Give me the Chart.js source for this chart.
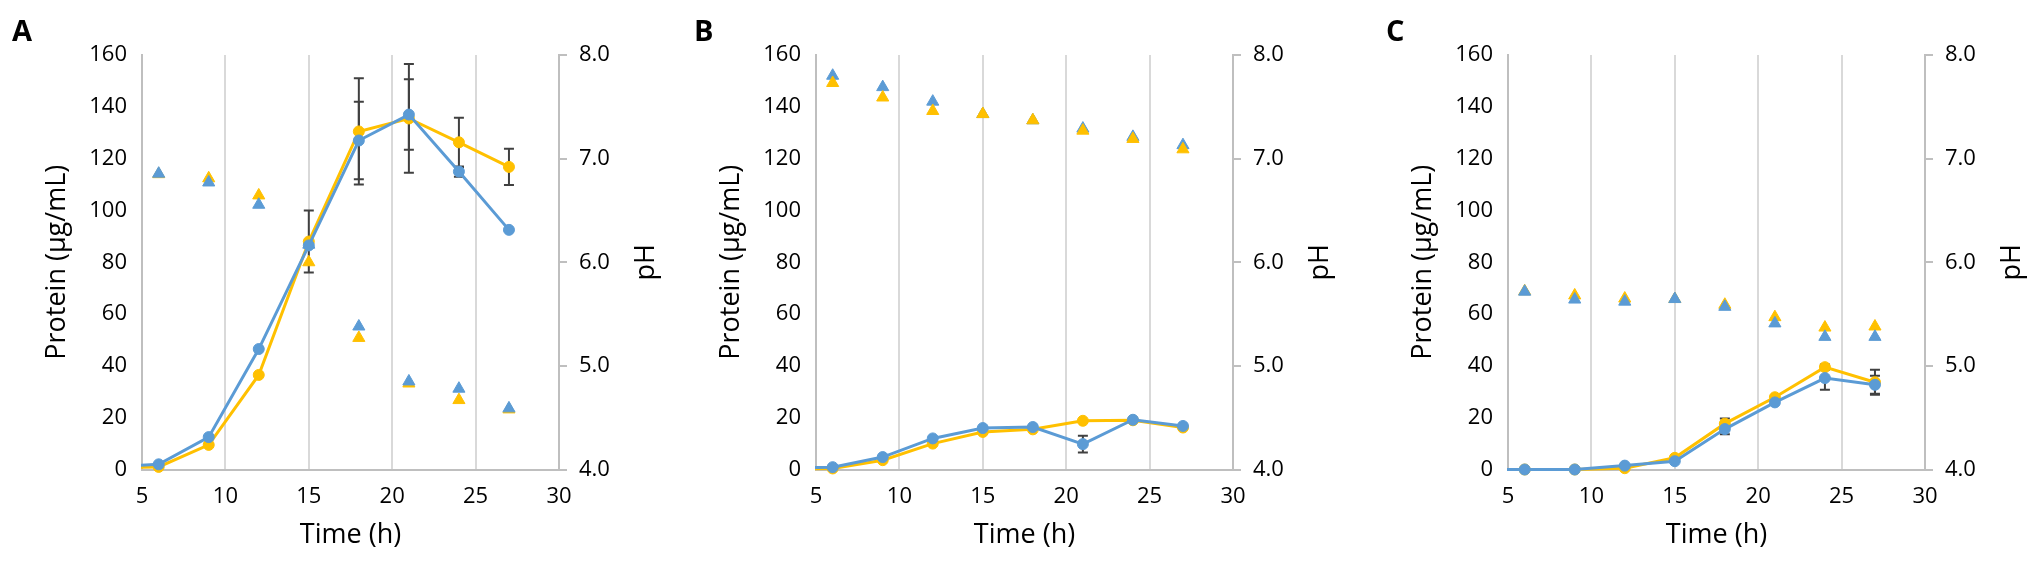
<!DOCTYPE html>
<html>
<head>
<meta charset="utf-8">
<script src="https://cdn.jsdelivr.net/npm/chart.js@4/dist/chart.umd.min.js"></script>
<style>
  html, body { margin: 0; padding: 0; background: #fff; overflow: hidden; }
  body { width: 2033px; height: 562px; position: relative; font-family: "Open Sans", sans-serif; }
  .panel { position: absolute; top: 0; width: 680px; height: 562px; }
  .letter { position: absolute; top: 10px; font-weight: bold; font-size: 29px; color: #000; }
</style>
</head>
<body>
<div class="panel" style="left:0px"><canvas id="chartA"></canvas></div>
<div class="panel" style="left:674px"><canvas id="chartB"></canvas></div>
<div class="panel" style="left:1366px"><canvas id="chartC"></canvas></div>
<div class="letter" style="left:12px">A</div>
<div class="letter" style="left:694px">B</div>
<div class="letter" style="left:1386px">C</div>
<script>
// sampling times (h) - protein starts at t=0, pH from t=6
const proteinTimes = [0, 6, 9, 12, 15, 18, 21, 24, 27];
const phTimes = [6, 9, 12, 15, 18, 21, 24, 27];

// Panel A
const proteinA_yellow = [0, 1, 9.5, 36.5, 88, 130.5, 135.5, 126.3, 116.8];
const proteinA_blue = [0, 2, 12.5, 46.5, 86.5, 127, 137, 115, 92.5];
const errA_yellow = [0, 0, 0, 0, 12, 20.5, 21, 9.5, 7];
const errA_blue = [0, 0, 0, 0, 0, 15, 13.6, 2, 0];
const phA_yellow = [6.85, 6.81, 6.645, 6.0, 5.27, 4.83, 4.67, 4.58];
const phA_blue = [6.855, 6.77, 6.555, 6.17, 5.38, 4.85, 4.78, 4.59];

// Panel B
const proteinB_yellow = [0, 0.4, 3.6, 10, 14.5, 15.5, 18.8, 19, 16.2];
const proteinB_blue = [0, 0.9, 4.8, 12, 16, 16.4, 9.8, 19.2, 16.8];
const errB_yellow = [0, 0, 0, 0, 0, 0, 0, 0, 0];
const errB_blue = [0, 0, 0, 0, 0, 0, 3.2, 0, 0];
const phB_yellow = [7.73, 7.59, 7.46, 7.43, 7.37, 7.27, 7.19, 7.09];
const phB_blue = [7.80, 7.69, 7.55, 7.43, 7.37, 7.29, 7.21, 7.13];

// Panel C
const proteinC_yellow = [0, 0, 0, 0.5, 4.5, 17.7, 27.9, 39.5, 33.7];
const proteinC_blue = [0, 0, 0, 1.5, 3.2, 15.6, 25.9, 35.3, 32.7];
const errC_yellow = [0, 0, 0, 0, 0, 2, 0, 1, 4.8];
const errC_blue = [0, 0, 0, 0, 0, 2, 0, 4.5, 3.5];
const phC_yellow = [5.72, 5.68, 5.65, 5.645, 5.59, 5.47, 5.37, 5.38];
const phC_blue = [5.716, 5.64, 5.62, 5.645, 5.57, 5.41, 5.28, 5.28];

const proteinTicks = [0, 20, 40, 60, 80, 100, 120, 140, 160];
const phTicks = [4.0, 5.0, 6.0, 7.0, 8.0];
const timeTicks = [5, 10, 15, 20, 25, 30];

const YELLOW = "#FFC000";
const BLUE = "#5B9BD5";
const AXIS = "#BFBFBF";
const GRID = "#D9D9D9";

Chart.defaults.font.family = "'Open Sans', sans-serif";
Chart.defaults.color = "#000";

function pts(xs, ys) {
  return xs.map((x, i) => ({ x: x, y: ys[i] }));
}

// error bars drawn through the y scale of each dataset
const errorBars = {
  id: "errorBars",
  beforeDatasetsDraw(chart) {
    const ctx = chart.ctx;
    ctx.save();
    ctx.strokeStyle = "#404040";
    ctx.lineWidth = 2;
    chart.data.datasets.forEach((ds) => {
      if (!ds.errors) return;
      const xs = chart.scales.x;
      const ys = chart.scales[ds.yAxisID];
      ds.data.forEach((p, j) => {
        const e = ds.errors[j];
        if (!e) return;
        const px = xs.getPixelForValue(p.x);
        const top = ys.getPixelForValue(p.y + e);
        const bot = ys.getPixelForValue(p.y - e);
        ctx.beginPath();
        ctx.moveTo(px, top); ctx.lineTo(px, bot);
        ctx.moveTo(px - 5, top); ctx.lineTo(px + 5, top);
        ctx.moveTo(px - 5, bot); ctx.lineTo(px + 5, bot);
        ctx.stroke();
      });
    });
    ctx.restore();
  }
};

// right axis title, read bottom-to-top like the left one
const phTitle = {
  id: "phTitle",
  afterDraw(chart) {
    const s = chart.scales.y1;
    const ctx = chart.ctx;
    ctx.save();
    ctx.translate(s.right - 34, (chart.chartArea.top + chart.chartArea.bottom) / 2);
    ctx.rotate(-Math.PI / 2);
    ctx.font = "27px 'Open Sans', sans-serif";
    ctx.fillStyle = "#000";
    ctx.textAlign = "center";
    ctx.textBaseline = "middle";
    ctx.fillText("pH", 0, 0);
    ctx.restore();
  }
};

function lineSet(label, color, ys, errs) {
  return {
    label: label,
    data: pts(proteinTimes, ys),
    errors: errs,
    yAxisID: "y",
    borderColor: color,
    backgroundColor: color,
    borderWidth: 3,
    pointRadius: 5.5,
    pointBorderWidth: 1,
    pointStyle: "circle",
    tension: 0,
    clip: { left: 1, top: false, right: false, bottom: false },
  };
}

function phSet(label, color, ys) {
  return {
    label: label,
    data: pts(phTimes, ys),
    yAxisID: "y1",
    showLine: false,
    borderColor: color,
    backgroundColor: color,
    pointStyle: "triangle",
    pointRadius: 7,
    pointBorderWidth: 1,
    clip: false,
  };
}

function makeChart(id, yellowP, blueP, errY, errB, phY, phB, yellowOnTop) {
  const tri = yellowOnTop
    ? [phSet("pH (yellow)", YELLOW, phY), phSet("pH (blue)", BLUE, phB)]
    : [phSet("pH (blue)", BLUE, phB), phSet("pH (yellow)", YELLOW, phY)];
  new Chart(document.getElementById(id), {
    type: "line",
    data: {
      datasets: [
        lineSet("Protein (blue)", BLUE, blueP, errB),
        lineSet("Protein (yellow)", YELLOW, yellowP, errY),
      ].concat(tri),
    },
    options: {
      responsive: true,
      maintainAspectRatio: false,
      animation: false,
      layout: { padding: { top: 55, bottom: 0, left: 0, right: 0 } },
      plugins: { legend: { display: false }, tooltip: { enabled: false } },
      scales: {
        x: {
          type: "linear",
          min: 5,
          max: 30,
          afterBuildTicks: (s) => { s.ticks = timeTicks.map((v) => ({ value: v })); },
          afterFit: (s) => { s.height = 92.5; },
          ticks: { font: { size: 22 }, padding: 14, color: "#000" },
          grid: { color: GRID, lineWidth: 2, drawTicks: false },
          border: { color: AXIS, width: 2 },
          title: { display: true, text: "Time (h)", font: { size: 27 }, padding: { top: 0, bottom: 10 } },
        },
        y: {
          position: "left",
          min: 0,
          max: 160,
          afterBuildTicks: (s) => { s.ticks = proteinTicks.map((v) => ({ value: v })); },
          afterFit: (s) => { s.width = 142; },
          ticks: { font: { size: 22 }, padding: 15, color: "#000" },
          grid: { display: false, drawTicks: false },
          border: { color: AXIS, width: 2 },
          title: { display: true, text: "Protein (µg/mL)", font: { size: 27 }, padding: { top: 41, bottom: 0 } },
        },
        y1: {
          position: "right",
          min: 4,
          max: 8,
          afterBuildTicks: (s) => { s.ticks = phTicks.map((v) => ({ value: v })); },
          afterFit: (s) => { s.width = 121; },
          ticks: { font: { size: 22 }, padding: 12, color: "#000", callback: (v) => Number(v).toFixed(1) },
          grid: { drawOnChartArea: false, drawTicks: true, tickLength: 8, color: AXIS, lineWidth: 2 },
          border: { color: AXIS, width: 2 },
          title: { display: false, text: "pH" },
        },
      },
    },
    plugins: [errorBars, phTitle],
  });
}

makeChart("chartA", proteinA_yellow, proteinA_blue, errA_yellow, errA_blue, phA_yellow, phA_blue, false);
makeChart("chartB", proteinB_yellow, proteinB_blue, errB_yellow, errB_blue, phB_yellow, phB_blue, true);
makeChart("chartC", proteinC_yellow, proteinC_blue, errC_yellow, errC_blue, phC_yellow, phC_blue, false);
</script>
</body>
</html>
